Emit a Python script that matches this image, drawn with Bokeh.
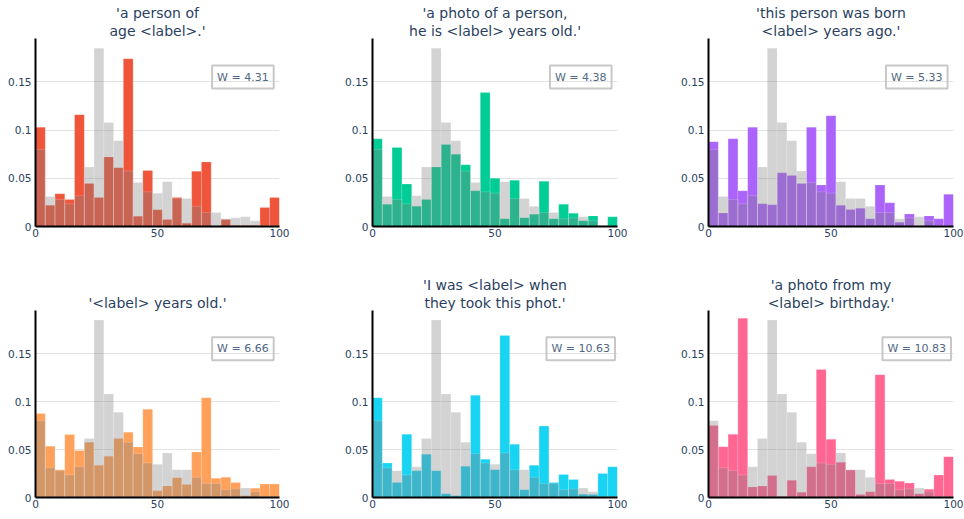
from bokeh.plotting import figure
from bokeh.models import Range1d, FixedTicker, Label, Title
from bokeh.layouts import column, row
from bokeh.embed import file_html
from bokeh.resources import INLINE

bin_edges = [0, 4, 8, 12, 16, 20, 24, 28, 32, 36, 40, 44, 48, 52, 56, 60, 64, 68, 72, 76, 80, 84, 88, 92, 96, 100]

true_ages = [0.080, 0.031, 0.028, 0.0235, 0.032, 0.0616, 0.185, 0.108, 0.089, 0.0575, 0.0457, 0.036, 0.0346,
             0.0465, 0.029, 0.029, 0.021, 0.0145, 0.0145, 0.008, 0.009, 0.010, 0.006, 0.001, 0.001]

pred_person_of_age = [0.103, 0.022, 0.034, 0.028, 0.116, 0.0446, 0.030, 0.072, 0.061, 0.174, 0.0107, 0.058, 0.0173,
                      0.0073, 0.030, 0.0035, 0.0574, 0.067, 0.0, 0.0073, 0.001, 0.001, 0.001, 0.0197, 0.030]
pred_photo_person = [0.091, 0.023, 0.082, 0.044, 0.021, 0.028, 0.0616, 0.085, 0.075, 0.064, 0.037, 0.139, 0.050,
                     0.008, 0.048, 0.009, 0.0128, 0.047, 0.008, 0.023, 0.0138, 0.006, 0.011, 0.0, 0.010]
pred_born_ago = [0.088, 0.014, 0.091, 0.037, 0.103, 0.0235, 0.0225, 0.0557, 0.053, 0.0446, 0.103, 0.043, 0.115,
                 0.022, 0.0176, 0.019, 0.008, 0.043, 0.0246, 0.0045, 0.013, 0.0, 0.011, 0.008, 0.0335]
pred_years_old = [0.0875, 0.0535, 0.029, 0.0656, 0.049, 0.0576, 0.0337, 0.043, 0.0614, 0.068, 0.0527, 0.092, 0.007,
                  0.012, 0.0205, 0.0135, 0.0475, 0.104, 0.020, 0.021, 0.0156, 0.0017, 0.0097, 0.014, 0.014]
pred_took_photo = [0.104, 0.036, 0.0156, 0.066, 0.028, 0.045, 0.028, 0.004, 0.0017, 0.0326, 0.1065, 0.040, 0.029,
                   0.169, 0.0555, 0.008, 0.0337, 0.0746, 0.0156, 0.024, 0.0187, 0.0035, 0.003, 0.025, 0.032]
pred_birthday = [0.075, 0.053, 0.066, 0.187, 0.011, 0.012, 0.023, 0.001, 0.018, 0.0055, 0.032, 0.1335, 0.0607,
                 0.0367, 0.0288, 0.003, 0.006, 0.128, 0.0187, 0.017, 0.015, 0.004, 0.0087, 0.0235, 0.0426]

title_lines = [["'a person of", "age <label>.'"],
               ["'a photo of a person,", "he is <label> years old.'"],
               ["'this person was born", "<label> years ago.'"],
               ["'<label> years old.'"],
               ["'I was <label> when", "they took this phot.'"],
               ["'a photo from my", "<label> birthday.'"]]
series = [pred_person_of_age, pred_photo_person, pred_born_ago, pred_years_old, pred_took_photo, pred_birthday]
colors = ["#EF553B", "#00CC96", "#AB63FA", "#FFA15A", "#19D3F3", "#FF6692"]
w_values = ["4.31", "4.38", "5.33", "6.66", "10.63", "10.83"]

FONT = "DejaVu Sans"
TXT = "#2a3f5f"

lefts = bin_edges[:-1]
rights = bin_edges[1:]

col_widths = [337, 336, 291]
col_right_borders = [58, 56, 11]
row_heights = [272, 247]
row_bottom_borders = [46, 22]


def make_panel(i):
    col = i % 3
    r = i // 3
    p = figure(width=col_widths[col], height=row_heights[r], output_backend="svg", toolbar_location=None,
               x_range=Range1d(0, 100), y_range=Range1d(0, 0.195),
               min_border_left=35, min_border_right=col_right_borders[col],
               min_border_top=38, min_border_bottom=row_bottom_borders[r])
    p.title.visible = False
    # add lines from the frame outward: last line first
    for line in reversed(title_lines[i]):
        p.add_layout(Title(text=line, align="center", text_font=FONT, text_font_size="14px",
                           text_color=TXT, text_font_style="normal", standoff=0), "above")
    p.outline_line_color = None
    p.background_fill_color = "white"
    p.border_fill_color = "white"

    p.quad(left=lefts, right=rights, bottom=0, top=series[i], fill_color=colors[i], fill_alpha=1.0,
           line_color="white", line_width=0.5, line_alpha=0.35)
    p.quad(left=lefts, right=rights, bottom=0, top=true_ages, fill_color="#808080", fill_alpha=0.35,
           line_color="white", line_width=0.5, line_alpha=0.35)

    p.xaxis.ticker = FixedTicker(ticks=[0, 50, 100])
    p.yaxis.ticker = FixedTicker(ticks=[0, 0.05, 0.1, 0.15])
    p.yaxis.major_label_overrides = {0: "0", 0.05: "0.05", 0.1: "0.1", 0.15: "0.15"}
    for ax in (p.xaxis[0], p.yaxis[0]):
        ax.axis_line_color = "black"
        ax.axis_line_width = 2
        ax.major_tick_line_color = None
        ax.minor_tick_line_color = None
        ax.major_tick_out = 0
        ax.major_tick_in = 0
        ax.major_label_text_font = FONT
        ax.major_label_text_font_size = "10.5px"
        ax.major_label_text_color = TXT
    p.xaxis.major_label_standoff = 2
    p.yaxis.major_label_standoff = 4
    p.xgrid.visible = False
    p.ygrid.grid_line_color = "#e2e2e2"
    p.ygrid.grid_line_width = 1

    lab = Label(x=85, y=0.155, text="W = " + w_values[i], text_align="center", text_baseline="middle",
                text_font=FONT, text_font_size="11px", text_color="#506784",
                border_line_color="#c8c8c8", border_line_width=2, background_fill_color=None,
                padding=5)
    p.add_layout(lab)
    return p


panels = [make_panel(i) for i in range(6)]
layout = column(row(*panels[:3]), row(*panels[3:]))

with open("out.html", "w") as f:
    f.write(file_html(layout, INLINE))
